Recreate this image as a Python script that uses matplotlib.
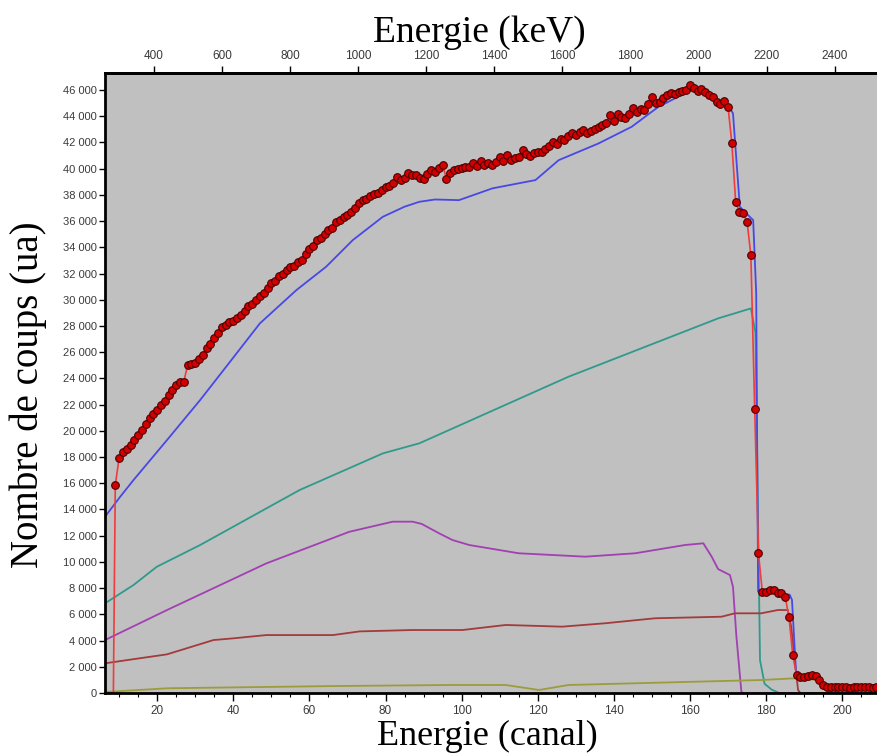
import numpy as np
import matplotlib
matplotlib.use("Agg")
import matplotlib.pyplot as plt
from matplotlib.ticker import MultipleLocator, FuncFormatter, FixedLocator

# measured spectrum, one point per channel (canal 9 .. 209)
canal = np.arange(9, 210)
coups = [
    15870, 17900, 18400, 18600, 18900, 19300, 19700, 20100, 20500, 20950,
    21300, 21600, 21950, 22250, 22700, 23150, 23500, 23700, 23750, 25000,
    25100, 25150, 25500, 25800, 26300, 26600, 27050, 27450, 27900, 28100,
    28300, 28400, 28600, 28800, 29150, 29500, 29700, 30000, 30300, 30500,
    30900, 31300, 31450, 31800, 32000, 32300, 32500, 32600, 32900, 33050,
    33500, 33900, 34100, 34550, 34700, 35000, 35300, 35500, 35900, 36100,
    36300, 36500, 36700, 37000, 37350, 37600, 37700, 37900, 38100, 38150,
    38400, 38600, 38650, 38900, 39400, 39100, 39300, 39650, 39500, 39550,
    39300, 39250, 39600, 39900, 39750, 40050, 40300, 39250, 39650, 39900,
    40000, 40050, 40100, 40150, 40400, 40200, 40550, 40300, 40450, 40250,
    40500, 40900, 40600, 41050, 40650, 40850, 40900, 41400, 41100, 41000,
    41200, 41300, 41250, 41500, 41700, 42050, 41900, 42300, 42200, 42500,
    42700, 42550, 42800, 42950, 42700, 42900, 43000, 43200, 43350, 43450,
    44100, 43600, 44200, 43950, 43850, 44200, 44600, 44300, 44550, 44450,
    44900, 45500, 45000, 45050, 45400, 45600, 45750, 45700, 45850, 45950,
    46000, 46400, 46150, 45900, 46100, 45850, 45650, 45450, 45100, 44950,
    45150, 44720, 41950, 37480, 36700, 36600, 35950, 33400, 21700, 10650,
    7730, 7700, 7850, 7860, 7650, 7600, 7350, 5820, 2900, 1370,
    1250, 1240, 1300, 1380, 1300, 990, 610, 480, 450, 480,
    420, 460, 430, 410, 450, 430, 420, 440, 430, 410, 430,
]

# fit curves (channel, counts)
total_x = [6.3, 10.3, 13.8, 22.6, 31.3, 39.5, 47, 56.6, 64.4, 71.4, 79.3, 85, 88.9, 93, 99.3,
           108.1, 119.4, 125.5, 136, 144.7, 151.7, 159.5, 163, 165.2, 167.4, 170, 171.3,
           172.2, 173.1, 175.7, 176.6, 177.4, 177.9, 186.2, 186.8, 187.9, 193.5, 196.7, 197.5, 210]
total_y = [13450, 14975, 16250, 19300, 22350, 25400, 28200, 30740, 32520, 34550, 36330, 37100,
           37475, 37650, 37600, 38500, 39130, 40650, 41930, 43200, 44720, 45870, 46250, 45610,
           44850, 44850, 44220, 40650, 37100, 36330, 36080, 30490, 7730, 7500, 7100, 1370, 1240,
           100, 0, 0]

teal_x = [6.3, 13.8, 19.9, 31.3, 57.4, 79.3, 88.9, 128.1, 167.4, 176.0, 177.2, 177.8, 178.4,
          179.6, 181.5, 183.5, 210]
teal_y = [6840, 8240, 9630, 11290, 15480, 18280, 19050, 24130, 28580, 29340, 27500, 15000,
          2500, 700, 250, 0, 0]

violet_x = [6.3, 22.6, 48.7, 70.5, 81.9, 87.1, 89.5, 94.1, 97.6, 102, 115, 132.5, 145.6, 158.7,
            163.5, 165.7, 167.4, 170.5, 171.3, 172.2, 173.5, 174, 210]
violet_y = [4040, 6330, 9890, 12300, 13070, 13070, 12900, 12180, 11670, 11290, 10660, 10400,
            10660, 11290, 11420, 10400, 9450, 9000, 8100, 4300, 100, 0, 0]

brun_x = [6.3, 22.6, 34.8, 40, 48.7, 66.2, 73.2, 87.1, 100.2, 111.6, 126.4, 137.7, 150.8, 168.3,
          171.8, 178.7, 183.1, 185.7, 186.6, 187.5, 188.4, 189, 210]
brun_y = [2265, 2950, 4040, 4170, 4420, 4420, 4700, 4805, 4805, 5190, 5060, 5320, 5700, 5820,
          6080, 6080, 6330, 6330, 5060, 2520, 230, 0, 0]

olive_x = [6.3, 7.7, 22.6, 66.2, 96.7, 111.6, 120.3, 128.1, 161.3, 178.7, 187.5, 193.6, 196.2, 198, 210]
olive_y = [80, 100, 360, 530, 610, 610, 230, 610, 860, 990, 1120, 990, 230, 0, 0]

# red fit starts at zero before the first measured channel
rouge_x = [6.3, 8.5] + list(canal)
rouge_y = [0, 0] + coups

kev_ticks = [400, 600, 800, 1000, 1200, 1400, 1600, 1800, 2000, 2200, 2400]


def ch2kev(c):
    return 11.18 * np.asarray(c) + 186


def kev2ch(e):
    return (np.asarray(e) - 186) / 11.18


fig = plt.figure(figsize=(8.78, 7.53), dpi=100)
ax = fig.add_axes([105 / 878, 1 - 693 / 753, 773 / 878, 620 / 753])
ax.set_facecolor("#c0c0c0")

ax.plot(teal_x, teal_y, color="#2f9a8c", lw=1.3)
ax.plot(violet_x, violet_y, color="#a23fb2", lw=1.3)
ax.plot(brun_x, brun_y, color="#a33b3b", lw=1.3)
ax.plot(olive_x, olive_y, color="#9c9c3c", lw=1.3)
ax.plot(total_x, total_y, color="#4848e6", lw=1.3)
ax.plot(rouge_x, rouge_y, color="#f03c3c", lw=1.2)
ax.plot(canal, coups, ls="none", marker="o", ms=5.5, mfc="#d40000", mec="#4a0000", mew=0.8)

ax.set_xlim(6.3, 209.4)
ax.set_ylim(0, 47300)

ax.xaxis.set_major_locator(MultipleLocator(20))
ax.xaxis.set_minor_locator(MultipleLocator(5))
ax.yaxis.set_major_locator(MultipleLocator(2000))
ax.yaxis.set_major_formatter(FuncFormatter(lambda v, p: f"{int(v):,}".replace(",", " ")))
ax.tick_params(axis="x", which="major", length=6, width=1, pad=3, labelsize=8.5, labelcolor="#3a3a3a")
ax.tick_params(axis="x", which="minor", length=3, width=0.8)
ax.tick_params(axis="y", length=4, width=1, pad=2, labelsize=8, labelcolor="#3a3a3a")
for lab in ax.get_xticklabels() + ax.get_yticklabels():
    lab.set_fontfamily("Liberation Sans")

for s in ["left", "bottom", "top"]:
    ax.spines[s].set_linewidth(2)
ax.spines["right"].set_visible(False)

top = ax.secondary_xaxis("top", functions=(ch2kev, kev2ch))
top.xaxis.set_major_locator(FixedLocator(kev_ticks))
top.tick_params(length=5, width=1, pad=3, labelsize=8.5, labelcolor="#3a3a3a")
top.spines["top"].set_linewidth(2)
for lab in top.get_xticklabels():
    lab.set_fontfamily("Liberation Sans")

fig.text(479 / 878, 1 - 42 / 753, "Energie (keV)", family="Liberation Serif", size=27,
         ha="center", va="baseline")
fig.text(487 / 878, 1 - 745 / 753, "Energie (canal)", family="Liberation Serif", size=26,
         ha="center", va="baseline")
fig.text(28 / 878, 1 - 395 / 753, "Nombre de coups (ua)", family="Liberation Serif", size=28,
         rotation=90, ha="center", va="center")

fig.savefig("out.png", dpi=100)
